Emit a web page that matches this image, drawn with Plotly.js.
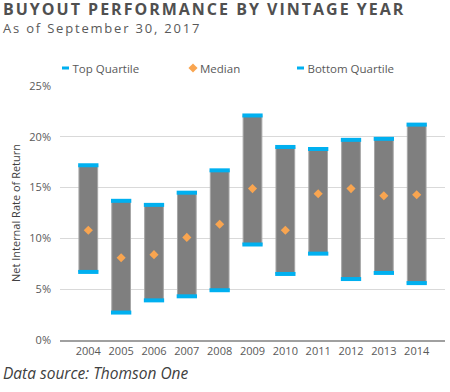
<!DOCTYPE html>
<html>
<head>
<meta charset="utf-8">
<script src="https://cdn.plot.ly/plotly-3.0.1.min.js"></script>
<style>
html,body{margin:0;padding:0;background:#fff;}
#chart{width:450px;height:392px;}
g.annotation[data-index="0"] text{letter-spacing:2px;}
g.annotation[data-index="1"] text{letter-spacing:1.8px;}
</style>
</head>
<body>
<div id="chart"></div>
<script>
const years = ["2004","2005","2006","2007","2008","2009","2010","2011","2012","2013","2014"];
const topQuartile = [17.2, 13.7, 13.3, 14.5, 16.7, 22.1, 19.0, 18.8, 19.7, 19.8, 21.2];
const median = [10.8, 8.1, 8.4, 10.1, 11.4, 14.9, 10.8, 14.4, 14.9, 14.2, 14.3];
const bottomQuartile = [6.7, 2.7, 3.9, 4.3, 4.9, 9.4, 6.5, 8.5, 6.0, 6.6, 5.6];
const yTicks = [0, 5, 10, 15, 20, 25];
const seriesNames = ["Top Quartile", "Median", "Bottom Quartile"];

const blue = "#00b0f0";
const orange = "#f9a550";
const gray = "#7f7f7f";

const traces = [
  {
    type: "bar", x: years,
    y: topQuartile.map((t, i) => t - bottomQuartile[i]),
    base: bottomQuartile, width: 0.57,
    marker: {color: gray, line: {color: "#a6a6a6", width: 1}},
    showlegend: false, hoverinfo: "skip"
  },
  {
    type: "scatter", mode: "markers", x: years, y: topQuartile,
    marker: {symbol: "line-ew", size: 14.5, line: {color: blue, width: 4}},
    showlegend: false, hoverinfo: "skip"
  },
  {
    type: "scatter", mode: "markers", x: years, y: bottomQuartile,
    marker: {symbol: "line-ew", size: 14.5, line: {color: blue, width: 4}},
    showlegend: false, hoverinfo: "skip"
  },
  {
    type: "scatter", mode: "markers", x: [null], y: [null], name: seriesNames[0],
    marker: {symbol: "line-ew", size: 5, line: {color: blue, width: 3}},
    legend: "legend"
  },
  {
    type: "scatter", mode: "markers", x: years, y: median, name: seriesNames[1],
    marker: {symbol: "diamond", size: 7, color: orange},
    legend: "legend2"
  },
  {
    type: "scatter", mode: "markers", x: [null], y: [null], name: seriesNames[2],
    marker: {symbol: "line-ew", size: 5, line: {color: blue, width: 3}},
    legend: "legend3"
  }
];

const px = v => (v - 60) / 385;
const py = v => (340.5 - v) / 254.5;
const legendBase = {
  orientation: "h", xanchor: "left", y: py(68), yanchor: "middle",
  font: {size: 11.5, color: "#595959"}, itemwidth: 30, bgcolor: "rgba(0,0,0,0)"
};

const layout = {
  width: 450, height: 392,
  margin: {l: 60, r: 5, t: 86, b: 51.5},
  paper_bgcolor: "#fff", plot_bgcolor: "#fff",
  font: {family: "Open Sans, sans-serif", size: 11, color: "#595959"},
  annotations: [
    {
      text: "<b>BUYOUT PERFORMANCE BY VINTAGE YEAR</b>", xref: "paper", yref: "paper",
      x: px(1), xanchor: "left", align: "left", y: py(9), yanchor: "middle",
      showarrow: false, font: {size: 16, color: "#505050"}
    },
    {
      text: "As of September 30, 2017", xref: "paper", yref: "paper",
      x: px(1), xanchor: "left", align: "left", y: py(28), yanchor: "middle",
      showarrow: false, font: {size: 13, color: "#595959"}
    },
    {
      text: "<i>Data source: Thomson One</i>", xref: "paper", yref: "paper",
      x: px(1), xanchor: "left", align: "left", y: py(374), yanchor: "middle",
      showarrow: false, font: {size: 15.5, color: "#404040"}
    }
  ],
  showlegend: true,
  legend: Object.assign({}, legendBase, {x: px(45.5)}),
  legend2: Object.assign({}, legendBase, {x: px(173)}),
  legend3: Object.assign({}, legendBase, {x: px(280.5)}),
  xaxis: {
    type: "category", categoryorder: "array", categoryarray: years,
    showline: true, linecolor: "#a0a0a0", linewidth: 2,
    showgrid: false, ticks: "", tickfont: {size: 11, color: "#595959"},
    fixedrange: true
  },
  yaxis: {
    range: [0, 25], tickvals: yTicks, ticktext: yTicks.map(v => v + "%"),
    showgrid: true, gridcolor: "#d9d9d9", gridwidth: 1,
    zeroline: false, showline: false, ticks: "",
    ticklabelstandoff: 8,
    tickfont: {size: 11, color: "#595959"},
    title: {text: "Net Internal Rate of Return", font: {size: 11, color: "#404040"}, standoff: 6},
    fixedrange: true
  }
};

Plotly.newPlot("chart", traces, layout, {displayModeBar: false, staticPlot: true}).then(() => {
  // pull legend labels closer to their symbols, as in the reference
  document.querySelectorAll("#chart svg text").forEach(t => {
    if (seriesNames.includes(t.textContent) && t.closest("[class*='legend']")) {
      const x = parseFloat(t.getAttribute("x") || "0");
      t.setAttribute("x", x - 13);
    }
  });
});
</script>
</body>
</html>
